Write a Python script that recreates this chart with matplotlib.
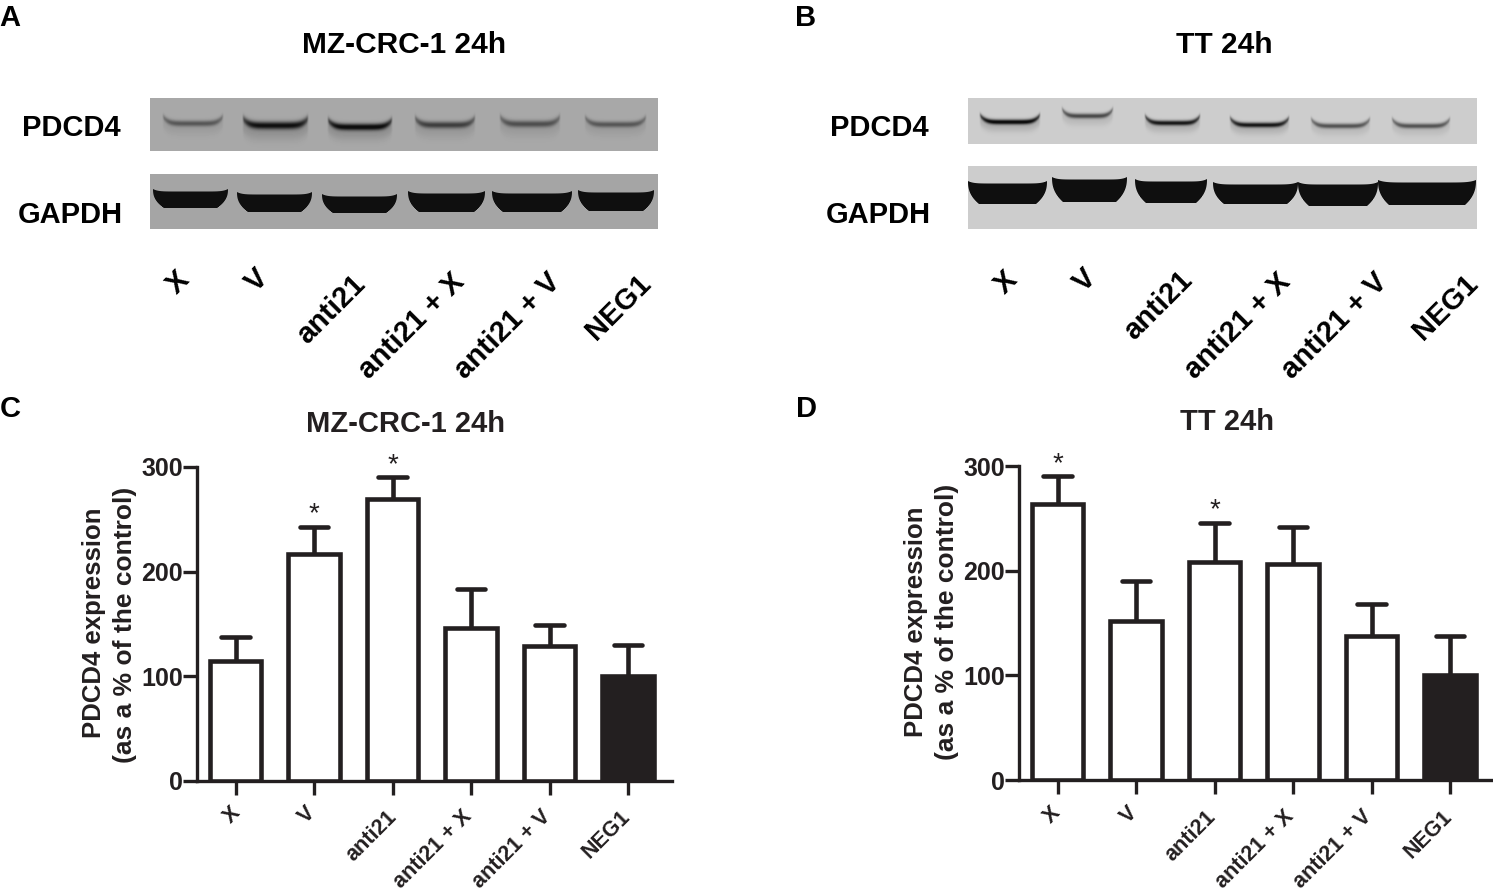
import numpy as np
import matplotlib
matplotlib.use('Agg')
from matplotlib import pyplot as plt

plt.rcParams['font.family'] = ['Liberation Sans', 'DejaVu Sans']
plt.rcParams['font.weight'] = 'bold'

W, H = 1493, 893
INK = '#231f20'

groups = ['X', 'V', 'anti21', 'anti21 + X', 'anti21 + V', 'NEG1']

# bar heights and top of the error bar
c_values = [115, 217, 269, 146, 129, 100]
c_err_top = [138, 243, 290, 183, 149, 130]
d_values = [264, 152, 208, 206, 138, 100]
d_err_top = [290, 190, 246, 242, 168, 138]
yticks = [0, 100, 200, 300]

# band darkness per lane (0 = background, 1 = black)
a_pdcd4 = [0.5, 0.95, 1.0, 0.65, 0.55, 0.5]
b_pdcd4 = [1.0, 0.65, 0.9, 0.9, 0.6, 0.6]


def soft_band(xx, yy, left, right, top, bottom, dark):
    u = np.clip((xx - left) / (right - left), 0, 1)
    mid = (top + bottom) / 2
    half = (bottom - top) / 2
    t = (2 * u - 1) ** 6
    curl = t * 7
    d = (yy - mid + curl) / half
    edge = np.clip(np.minimum(xx - left, right - xx) / 2 + 0.5, 0, 1)
    a = np.exp(-d ** 2 * 1.4) * dark * (1 - 0.55 * t)
    # faint smear under the band
    a = a + 0.14 * dark * np.exp(-((d - 1.6) / 1.8) ** 2)
    return np.clip(a * edge, 0, 1)


def hard_band(xx, yy, left, right, top, bottom, dark):
    u = np.clip((xx - left) / (right - left), 0, 1)
    # top edge sags a little in the middle, lower corners are rounded in
    top_edge = top + 2.5 * (1 - (2 * u - 1) ** 8)
    v = np.clip((yy - top) / (bottom - top), 0, 1)
    inset = 11 * v ** 2.5
    a = np.minimum.reduce([yy - top_edge + 0.5, bottom - yy + 0.5,
                           xx - left - inset + 0.5, right - inset - xx + 0.5])
    return np.clip(a, 0, 1) * dark


def draw_blot(ax, x0, x1, y0, y1, bg, lanes, band):
    yy, xx = np.mgrid[y0:y1, x0:x1] + 0.5
    img = np.full(xx.shape, float(bg))
    for lane in lanes:
        a = band(xx, yy, *lane)
        img = img * (1 - a) + 15 * a
    ax.imshow(img, cmap='gray', vmin=0, vmax=255, extent=(x0, x1, y1, y0),
              interpolation='bilinear', aspect='auto', zorder=1)


def bar_panel(rect, centre0, values, err_top, stars):
    left, top, right, bottom = rect
    step = 78.5
    ax = fig.add_axes([left / W, 1 - bottom / H, (right - left) / W, (bottom - top) / H])
    x = np.arange(len(values))
    colors = ['white'] * 5 + [INK]
    ax.bar(x, values, width=0.66, color=colors, edgecolor=INK, linewidth=3.3, zorder=3)
    for i in x:
        ax.plot([i, i], [values[i], err_top[i]], color=INK, lw=3.3, solid_capstyle='butt', zorder=2)
        ax.plot([i - 0.18, i + 0.18], [err_top[i], err_top[i]], color=INK, lw=3.3,
                solid_capstyle='round', zorder=2)
    for i in stars:
        ax.text(i, err_top[i] + 5, '*', ha='center', va='baseline', fontsize=20,
                fontweight='normal', color=INK, clip_on=False)
    ax.set_ylim(0, 300)
    ax.set_xlim((left - centre0) / step, (right - centre0) / step)
    ax.set_yticks(yticks)
    ax.set_xticks(x)
    ax.set_xticklabels([])
    for s in ['top', 'right']:
        ax.spines[s].set_visible(False)
    for s in ['left', 'bottom']:
        ax.spines[s].set_linewidth(2.4)
        ax.spines[s].set_color(INK)
    ax.tick_params(width=2.4, length=10, color=INK, labelcolor=INK)
    ax.tick_params(axis='y', labelsize=18, pad=0)
    return ax


fig = plt.figure(figsize=(W / 100, H / 100), dpi=100, facecolor='white')
bg_ax = fig.add_axes([0, 0, 1, 1])
bg_ax.set_xlim(0, W)
bg_ax.set_ylim(H, 0)
bg_ax.axis('off')

draw_blot(bg_ax, 150, 658, 98, 151, 168, [
    (163, 223, 120, 127, a_pdcd4[0]), (243, 308, 121, 130, a_pdcd4[1]),
    (328, 392, 123, 131, a_pdcd4[2]), (415, 475, 121, 129, a_pdcd4[3]),
    (500, 560, 120, 128, a_pdcd4[4]), (585, 646, 121, 128, a_pdcd4[5])], soft_band)
draw_blot(bg_ax, 150, 658, 174, 229, 165, [
    (153, 228, 189, 208, 1), (237, 312, 192, 212, 1), (322, 397, 194, 213, 1),
    (408, 485, 191, 212, 1), (492, 572, 191, 212, 1), (578, 654, 190, 211, 1)], hard_band)
draw_blot(bg_ax, 968, 1477, 98, 144, 205, [
    (980, 1040, 119, 125, b_pdcd4[0]), (1062, 1113, 113, 119, b_pdcd4[1]),
    (1145, 1200, 120, 126, b_pdcd4[2]), (1230, 1289, 122, 128, b_pdcd4[3]),
    (1311, 1370, 123, 129, b_pdcd4[4]), (1392, 1450, 123, 129, b_pdcd4[5])], soft_band)
draw_blot(bg_ax, 968, 1477, 166, 229, 205, [
    (968, 1047, 181, 204, 1), (1052, 1127, 177, 202, 1), (1135, 1207, 179, 203, 1),
    (1213, 1298, 182, 204, 1), (1298, 1378, 182, 206, 1), (1378, 1476, 180, 205, 1)], hard_band)

# panel letters
for s, px, py in [('A', 10, 18), ('B', 806, 18), ('C', 10, 409), ('D', 806, 409)]:
    bg_ax.text(px, py, s, ha='center', va='center', fontsize=21, color='black')

# blot titles and row labels
bg_ax.text(404, 45, 'MZ-CRC-1 24h', ha='center', va='center', fontsize=21.5, color='black')
bg_ax.text(1224, 45, 'TT 24h', ha='center', va='center', fontsize=21.5, color='black')
bg_ax.text(71, 128, 'PDCD4', ha='center', va='center', fontsize=21, color='black')
bg_ax.text(70, 215, 'GAPDH', ha='center', va='center', fontsize=21, color='black')
bg_ax.text(879, 128, 'PDCD4', ha='center', va='center', fontsize=21, color='black')
bg_ax.text(878, 215, 'GAPDH', ha='center', va='center', fontsize=21, color='black')

# bar titles
bg_ax.text(406, 424, 'MZ-CRC-1 24h', ha='center', va='center', fontsize=21, color=INK)
bg_ax.text(1227, 422, 'TT 24h', ha='center', va='center', fontsize=21, color=INK)

# rotated group labels
for name, cx, cy in zip(groups, [178, 257, 331, 412, 508, 618], [282, 280, 310, 326, 326, 307]):
    bg_ax.text(cx, cy, name, rotation=45, ha='center', va='center', fontsize=21, color='black')
for name, cx, cy in zip(groups, [1006, 1085, 1158, 1238, 1335, 1445], [282, 280, 306, 326, 326, 307]):
    bg_ax.text(cx, cy, name, rotation=45, ha='center', va='center', fontsize=21, color='black')
for name, cx, cy in zip(groups, [232, 307, 372, 433, 512, 606], [815, 815, 836, 849, 849, 834]):
    bg_ax.text(cx, cy, name, rotation=45, ha='center', va='center', fontsize=15.5, color=INK)
for name, cx, cy in zip(groups, [1052, 1129, 1191, 1255, 1333, 1428], [815, 815, 836, 849, 849, 834]):
    bg_ax.text(cx, cy, name, rotation=45, ha='center', va='center', fontsize=15.5, color=INK)

# y titles
bg_ax.text(94, 623, 'PDCD4 expression', rotation=90, ha='center', va='center', fontsize=18.5, color=INK)
bg_ax.text(125, 625, '(as a % of the control)', rotation=90, ha='center', va='center', fontsize=19, color=INK)
bg_ax.text(916, 622, 'PDCD4 expression', rotation=90, ha='center', va='center', fontsize=18.5, color=INK)
bg_ax.text(947, 622, '(as a % of the control)', rotation=90, ha='center', va='center', fontsize=19, color=INK)

bar_panel((197, 467, 672, 781), 235.5, c_values, c_err_top, [1, 2])
bar_panel((1019, 466, 1493, 780), 1057.5, d_values, d_err_top, [0, 2])

fig.savefig('out.png', dpi=100)
